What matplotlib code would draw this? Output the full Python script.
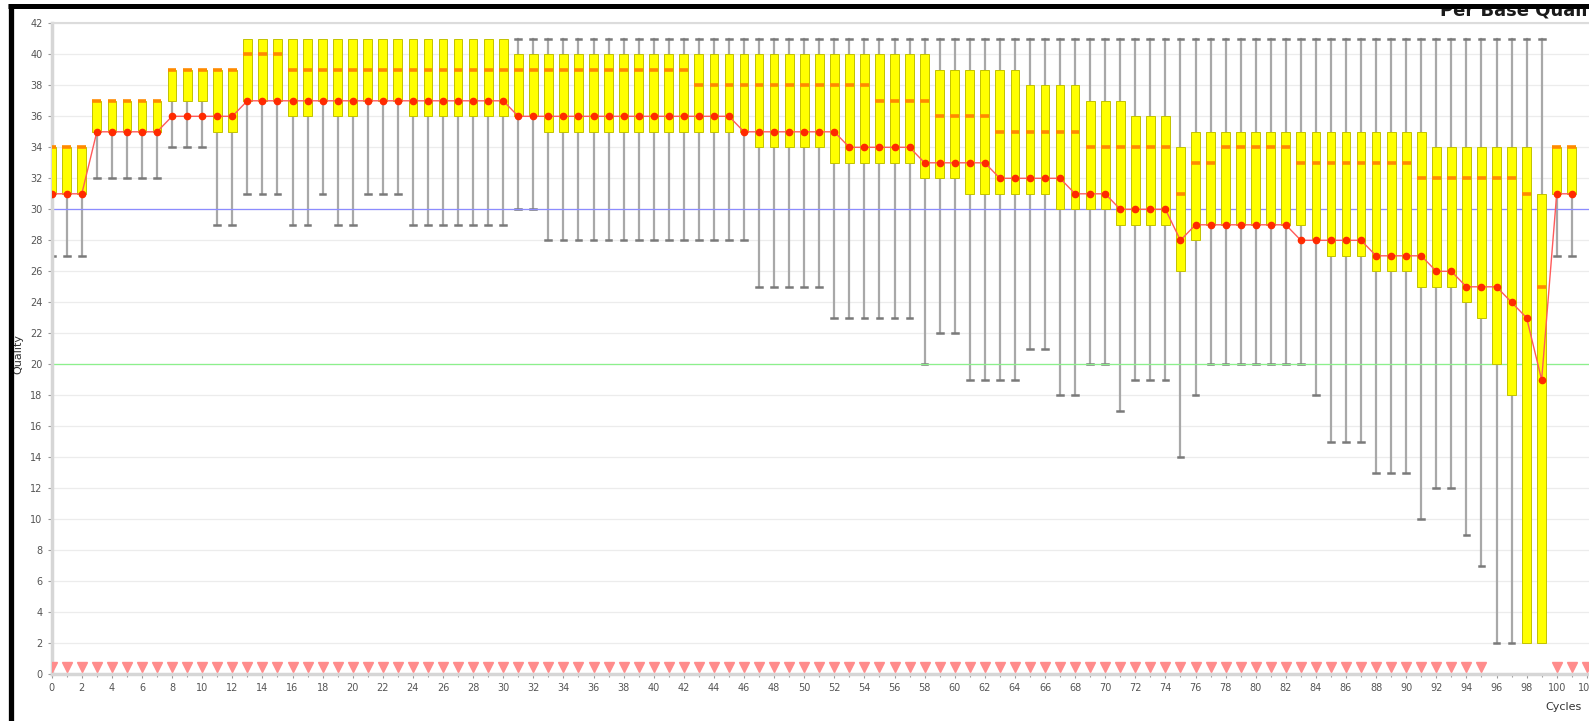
import matplotlib
matplotlib.use('Agg')
import matplotlib.pyplot as plt
from matplotlib.lines import Line2D
from matplotlib.patches import Rectangle
from matplotlib.ticker import MultipleLocator

# per-cycle quality boxes (cycles 0..101)
cycles = list(range(102))

whis_low = [27, 27, 27, 32, 32, 32, 32, 32, 34, 34, 34, 29, 29, 31, 31, 31, 29, 29, 31, 29,
            29, 31, 31, 31, 29, 29, 29, 29, 29, 29, 29, 30, 30, 28, 28, 28, 28, 28, 28, 28,
            28, 28, 28, 28, 28, 28, 28, 25, 25, 25, 25, 25, 23, 23, 23, 23, 23, 23, 20, 22,
            22, 19, 19, 19, 19, 21, 21, 18, 18, 20, 20, 17, 19, 19, 19, 14, 18, 20, 20, 20,
            20, 20, 20, 20, 18, 15, 15, 15, 13, 13, 13, 10, 12, 12, 9, 7, 2, 2, 2, 2,
            27, 27]

q1 = [31, 31, 31, 35, 35, 35, 35, 35, 37, 37, 37, 35, 35, 37, 37, 37, 36, 36, 37, 36,
      36, 37, 37, 37, 36, 36, 36, 36, 36, 36, 36, 36, 36, 35, 35, 35, 35, 35, 35, 35,
      35, 35, 35, 35, 35, 35, 35, 34, 34, 34, 34, 34, 33, 33, 33, 33, 33, 33, 32, 32,
      32, 31, 31, 31, 31, 31, 31, 30, 30, 30, 30, 29, 29, 29, 29, 26, 28, 29, 29, 29,
      29, 29, 29, 29, 28, 27, 27, 27, 26, 26, 26, 25, 25, 25, 24, 23, 20, 18, 2, 2,
      31, 31]

q3 = [34, 34, 34, 37, 37, 37, 37, 37, 39, 39, 39, 39, 39, 41, 41, 41, 41, 41, 41, 41,
      41, 41, 41, 41, 41, 41, 41, 41, 41, 41, 41, 40, 40, 40, 40, 40, 40, 40, 40, 40,
      40, 40, 40, 40, 40, 40, 40, 40, 40, 40, 40, 40, 40, 40, 40, 40, 40, 40, 40, 39,
      39, 39, 39, 39, 39, 38, 38, 38, 38, 37, 37, 37, 36, 36, 36, 34, 35, 35, 35, 35,
      35, 35, 35, 35, 35, 35, 35, 35, 35, 35, 35, 35, 34, 34, 34, 34, 34, 34, 34, 31,
      34, 34]

whis_high = [34, 34, 34, 37, 37, 37, 37, 37, 39, 39, 39, 39, 39] + [41] * 87 + [34, 34]

# red dots joined by the line
dot = [31, 31, 31, 35, 35, 35, 35, 35, 36, 36, 36, 36, 36, 37, 37, 37, 37, 37, 37, 37,
       37, 37, 37, 37, 37, 37, 37, 37, 37, 37, 37, 36, 36, 36, 36, 36, 36, 36, 36, 36,
       36, 36, 36, 36, 36, 36, 35, 35, 35, 35, 35, 35, 35, 34, 34, 34, 34, 34, 33, 33,
       33, 33, 33, 32, 32, 32, 32, 32, 31, 31, 31, 30, 30, 30, 30, 28, 29, 29, 29, 29,
       29, 29, 29, 28, 28, 28, 28, 28, 27, 27, 27, 27, 26, 26, 25, 25, 25, 24, 23, 19,
       31, 31]

# orange dashes
dash = [34, 34, 34, 37, 37, 37, 37, 37, 39, 39, 39, 39, 39, 40, 40, 40, 39, 39, 39, 39,
        39, 39, 39, 39, 39, 39, 39, 39, 39, 39, 39, 39, 39, 39, 39, 39, 39, 39, 39, 39,
        39, 39, 39, 38, 38, 38, 38, 38, 38, 38, 38, 38, 38, 38, 38, 37, 37, 37, 37, 36,
        36, 36, 36, 35, 35, 35, 35, 35, 35, 34, 34, 34, 34, 34, 34, 31, 33, 33, 34, 34,
        34, 34, 34, 33, 33, 33, 33, 33, 33, 33, 33, 32, 32, 32, 32, 32, 32, 32, 31, 25,
        34, 34]

# little red markers along the bottom
flag_cycles = list(range(96)) + [100, 101, 102]

W, H = 1589, 721
fig = plt.figure(figsize=(W / 100, H / 100), dpi=100)
fig.patch.set_facecolor('white')
plt.rcParams['font.family'] = 'DejaVu Sans'

x0, y0, y42 = 51.7, 674.3, 23.3
ax = fig.add_axes([x0 / W, (H - y0) / H, 1 - x0 / W, (y0 - y42) / H])

stats = []
for i in range(len(cycles)):
    stats.append({'med': dash[i], 'q1': q1[i], 'q3': q3[i],
                  'whislo': whis_low[i], 'whishi': whis_high[i], 'fliers': []})

bp = ax.bxp(stats, positions=cycles, widths=0.58, patch_artist=True, showfliers=False,
            manage_ticks=False, capwidths=0.38,
            boxprops=dict(facecolor='#ffff00', edgecolor='#c2c200', linewidth=0.7),
            medianprops=dict(color='#ff8a00', linewidth=2.6, solid_capstyle='butt'),
            whiskerprops=dict(color='#a8a8a8', linewidth=1.6),
            capprops=dict(color='#7a7a7a', linewidth=1.8))

# hide caps that sit on the box edge
for i in range(len(cycles)):
    if whis_low[i] == q1[i]:
        bp['caps'][2 * i].set_visible(False)
    if whis_high[i] == q3[i]:
        bp['caps'][2 * i + 1].set_visible(False)
for b in bp['boxes']:
    b.set_zorder(3)
for m in bp['medians']:
    m.set_zorder(4)

ax.plot(cycles, dot, color='#ff5a5a', lw=1.0, zorder=5)
ax.plot(cycles, dot, 'o', color='#ff2a00', ms=4.5, mec='#ff2a00', zorder=6, lw=0)

ax.plot(flag_cycles, [0.45] * len(flag_cycles), 'v', color='#ff8c8c', ms=7, zorder=6, lw=0)

ax.axhline(30, color='#8c8cff', lw=0.9, zorder=2)
ax.axhline(20, color='#8cf08c', lw=0.9, zorder=2)

ax.set_xlim(0, (W - x0) / 15.05)
ax.set_ylim(0, 42)
ax.yaxis.set_major_locator(MultipleLocator(2))
ax.xaxis.set_major_locator(MultipleLocator(2))
ax.xaxis.set_minor_locator(MultipleLocator(1))
ax.grid(axis='y', color='#ececec', lw=0.9, zorder=0)
ax.set_axisbelow(True)

ax.spines['right'].set_visible(False)
ax.spines['top'].set_color('#dcdcdc')
ax.spines['top'].set_linewidth(1.5)
ax.spines['left'].set_color('#d6d6d6')
ax.spines['left'].set_linewidth(2.5)
ax.spines['bottom'].set_color('#d6d6d6')
ax.spines['bottom'].set_linewidth(2.5)
ax.tick_params(axis='both', which='both', colors='#9a9a9a', labelcolor='#555555',
               labelsize=7, length=3, width=0.8)
ax.tick_params(axis='x', which='minor', length=2)

fig.text(18 / W, 1 - 354 / H, 'Quality', rotation=90, ha='center', va='center',
         fontsize=8, color='#333333')
fig.text(1582 / W, 1 - 707 / H, 'Cycles', ha='right', va='center',
         fontsize=8, color='#333333')
# title is mostly cut off by the frame in the reference
fig.text(1440 / W, 1 - 15.5 / H, 'Per Base Quality', ha='left', va='baseline',
         fontsize=13, fontweight='bold', color='#1a1a1a', zorder=1)

# white strip above the frame line, then black frame at left and top
fig.add_artist(Rectangle((0, 1 - 4 / H), 1, 4 / H, facecolor='white', edgecolor='none',
                         transform=fig.transFigure, zorder=19))
fig.add_artist(Line2D([10.5 / W, 10.5 / W], [0, 1 - 3.5 / H], color='black', lw=3.8,
                      transform=fig.transFigure, zorder=20, solid_capstyle='butt'))
fig.add_artist(Line2D([8 / W, 1], [1 - 6 / H, 1 - 6 / H], color='black', lw=3.6,
                      transform=fig.transFigure, zorder=20, solid_capstyle='butt'))

fig.savefig('out.png', dpi=100, facecolor='white')
